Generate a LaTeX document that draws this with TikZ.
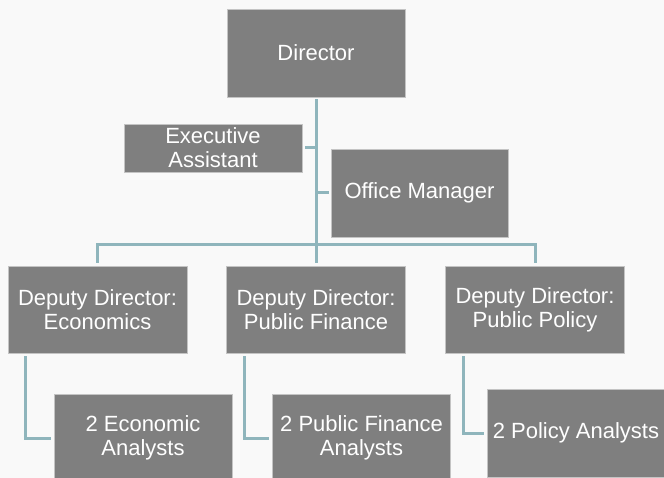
\documentclass[tikz,border=0pt]{standalone}
\usepackage{fontspec}
\setmainfont{Liberation Sans}
\definecolor{boxgray}{HTML}{7F7F7F}
\definecolor{boxedge}{HTML}{C4C4C4}
\definecolor{linkteal}{HTML}{8FB5BC}
\definecolor{paper}{HTML}{F9F9F9}
\begin{document}
\begin{tikzpicture}[x=1pt,y=-1pt,
  unit/.style={rectangle, fill=boxgray, draw=boxedge, line width=0.8pt,
    minimum width=178pt, minimum height=88pt, inner sep=0pt,
    text=white, align=center, font=\fontsize{22}{24}\selectfont},
  link/.style={draw=linkteal, line width=3pt}]
  % page background
  \fill[paper] (0,0) rectangle (664,478);
  \useasboundingbox (0,0) rectangle (664,478);

  % staff boxes
  \node[unit] (dir) at (316,53) {Director};
  \node[unit, minimum height=48pt] (ea) at (213,148) {Executive\\Assistant};
  \node[unit, minimum width=177pt] (om) at (419.5,193) {Office Manager};

  \node[unit, minimum width=179pt, minimum height=87pt] (ddE) at (97.5,309.5) {Deputy Director:\\Economics};
  \node[unit, minimum width=179pt, minimum height=87pt] (ddF) at (316,309.5) {Deputy Director:\\Public Finance};
  \node[unit, minimum width=179pt, minimum height=87pt] (ddP) at (535,309.5) {Deputy Director:\\Public Policy};

  \node[unit] (anE) at (143,438) {2 Economic\\Analysts};
  \node[unit] (anF) at (361.5,438) {2 Public Finance\\Analysts};
  \node[unit] (anP) at (576,433) {2 Policy Analysts};

  % connectors
  \coordinate (bus) at (316,245);
  \draw[link] ([yshift=-2pt]dir.south) -- ([yshift=3pt]ddF.north);
  \draw[link] ([yshift=3pt]ddE.north) |- (bus) -| ([yshift=3pt]ddP.north);
  \draw[link] ([xshift=3pt]ea.east) -- (ea.east -| dir.south);
  \draw[link] (om.west -| dir.south) -- ([xshift=-2pt]om.west);

  \draw[link] ([xshift=-72.5pt,yshift=-3pt]ddE.south) |- ([xshift=-3pt]anE.west);
  \draw[link] ([xshift=-72pt,yshift=-3pt]ddF.south) |- ([xshift=-3pt]anF.west);
  \draw[link] ([xshift=-72pt,yshift=-3pt]ddP.south) |- ([xshift=-3pt]anP.west);
\end{tikzpicture}
\end{document}
